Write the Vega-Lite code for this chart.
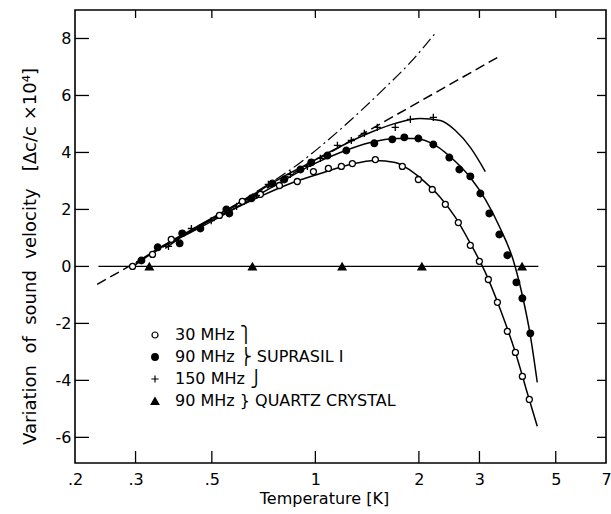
{
  "$schema": "https://vega.github.io/schema/vega-lite/v6.json",
  "width": 531,
  "height": 453,
  "autosize": {"type": "none"},
  "padding": {"left": 75, "top": 10, "right": 5, "bottom": 51},
  "background": "white",
  "config": {
    "font": "DejaVu Sans",
    "view": {"stroke": "black", "strokeWidth": 1.6},
    "axis": {
      "grid": false,
      "labelColor": "black",
      "titleColor": "black",
      "labelFontSize": 16,
      "titleFontSize": 16,
      "titleFontWeight": "normal"
    },
    "legend": {
      "labelFontSize": 16,
      "labelColor": "black",
      "labelLimit": 400,
      "rowPadding": 6,
      "labelOffset": 12
    }
  },
  "datasets": {
    "pts": [
      {"s": "s30", "T": 0.294, "v": 0.0},
      {"s": "s30", "T": 0.336, "v": 0.42},
      {"s": "s30", "T": 0.381, "v": 0.95},
      {"s": "s30", "T": 0.526, "v": 1.79},
      {"s": "s30", "T": 0.613, "v": 2.28},
      {"s": "s30", "T": 0.692, "v": 2.53},
      {"s": "s30", "T": 0.786, "v": 2.84},
      {"s": "s30", "T": 0.886, "v": 2.98},
      {"s": "s30", "T": 0.987, "v": 3.33},
      {"s": "s30", "T": 1.091, "v": 3.44},
      {"s": "s30", "T": 1.19, "v": 3.51},
      {"s": "s30", "T": 1.281, "v": 3.61},
      {"s": "s30", "T": 1.494, "v": 3.75},
      {"s": "s30", "T": 1.79, "v": 3.51},
      {"s": "s30", "T": 1.993, "v": 3.05},
      {"s": "s30", "T": 2.187, "v": 2.7},
      {"s": "s30", "T": 2.387, "v": 2.18},
      {"s": "s30", "T": 2.604, "v": 1.54},
      {"s": "s30", "T": 2.822, "v": 0.74},
      {"s": "s30", "T": 2.998, "v": 0.18},
      {"s": "s30", "T": 3.184, "v": -0.46},
      {"s": "s30", "T": 3.383, "v": -1.26},
      {"s": "s30", "T": 3.616, "v": -2.28},
      {"s": "s30", "T": 3.817, "v": -3.02},
      {"s": "s30", "T": 3.999, "v": -3.86},
      {"s": "s30", "T": 4.189, "v": -4.67},
      {"s": "s90", "T": 0.312, "v": 0.21},
      {"s": "s90", "T": 0.348, "v": 0.67},
      {"s": "s90", "T": 0.403, "v": 0.81},
      {"s": "s90", "T": 0.41, "v": 1.16},
      {"s": "s90", "T": 0.463, "v": 1.33},
      {"s": "s90", "T": 0.551, "v": 2.0},
      {"s": "s90", "T": 0.562, "v": 1.86},
      {"s": "s90", "T": 0.652, "v": 2.39},
      {"s": "s90", "T": 0.75, "v": 2.91},
      {"s": "s90", "T": 0.812, "v": 3.05},
      {"s": "s90", "T": 0.905, "v": 3.4},
      {"s": "s90", "T": 0.973, "v": 3.65},
      {"s": "s90", "T": 1.084, "v": 3.89},
      {"s": "s90", "T": 1.23, "v": 4.07},
      {"s": "s90", "T": 1.484, "v": 4.32},
      {"s": "s90", "T": 1.674, "v": 4.46},
      {"s": "s90", "T": 1.814, "v": 4.53},
      {"s": "s90", "T": 1.993, "v": 4.49},
      {"s": "s90", "T": 2.203, "v": 4.28},
      {"s": "s90", "T": 2.452, "v": 3.82},
      {"s": "s90", "T": 2.622, "v": 3.4},
      {"s": "s90", "T": 2.822, "v": 3.16},
      {"s": "s90", "T": 3.018, "v": 2.56},
      {"s": "s90", "T": 3.205, "v": 1.86},
      {"s": "s90", "T": 3.427, "v": 1.12},
      {"s": "s90", "T": 3.616, "v": 0.39},
      {"s": "s90", "T": 3.842, "v": -0.56},
      {"s": "s90", "T": 3.999, "v": -1.12},
      {"s": "s90", "T": 4.217, "v": -2.35},
      {"s": "s150", "T": 0.374, "v": 0.7},
      {"s": "s150", "T": 0.436, "v": 1.33},
      {"s": "s150", "T": 0.498, "v": 1.61},
      {"s": "s150", "T": 0.59, "v": 2.11},
      {"s": "s150", "T": 0.674, "v": 2.49},
      {"s": "s150", "T": 0.73, "v": 2.88},
      {"s": "s150", "T": 0.846, "v": 3.23},
      {"s": "s150", "T": 0.948, "v": 3.51},
      {"s": "s150", "T": 1.034, "v": 3.79},
      {"s": "s150", "T": 1.159, "v": 4.25},
      {"s": "s150", "T": 1.272, "v": 4.42},
      {"s": "s150", "T": 1.388, "v": 4.67},
      {"s": "s150", "T": 1.514, "v": 4.88},
      {"s": "s150", "T": 1.707, "v": 4.88},
      {"s": "s150", "T": 1.889, "v": 5.16},
      {"s": "s150", "T": 2.203, "v": 5.23},
      {"s": "q90", "T": 0.329, "v": 0.0},
      {"s": "q90", "T": 0.656, "v": 0.0},
      {"s": "q90", "T": 1.196, "v": 0.0},
      {"s": "q90", "T": 2.04, "v": 0.0},
      {"s": "q90", "T": 3.99, "v": 0.0}
    ],
    "lines": [
      {"c": "quartz", "T": 0.234, "v": 0.0},
      {"c": "quartz", "T": 4.45, "v": 0.0},
      {"c": "dashed", "T": 0.232, "v": -0.63},
      {"c": "dashed", "T": 3.38, "v": 7.33},
      {"c": "dashdot", "T": 0.463, "v": 1.44},
      {"c": "dashdot", "T": 0.647, "v": 2.49},
      {"c": "dashdot", "T": 0.905, "v": 3.65},
      {"c": "dashdot", "T": 1.182, "v": 4.81},
      {"c": "dashdot", "T": 1.566, "v": 6.18},
      {"c": "dashdot", "T": 1.889, "v": 7.16},
      {"c": "dashdot", "T": 2.23, "v": 8.18},
      {"c": "fit30", "T": 0.29, "v": -0.07},
      {"c": "fit30", "T": 0.331, "v": 0.42},
      {"c": "fit30", "T": 0.379, "v": 0.88},
      {"c": "fit30", "T": 0.463, "v": 1.44},
      {"c": "fit30", "T": 0.566, "v": 1.96},
      {"c": "fit30", "T": 0.692, "v": 2.46},
      {"c": "fit30", "T": 0.846, "v": 2.91},
      {"c": "fit30", "T": 1.034, "v": 3.26},
      {"c": "fit30", "T": 1.264, "v": 3.58},
      {"c": "fit30", "T": 1.494, "v": 3.72},
      {"c": "fit30", "T": 1.707, "v": 3.65},
      {"c": "fit30", "T": 1.889, "v": 3.37},
      {"c": "fit30", "T": 2.088, "v": 2.95},
      {"c": "fit30", "T": 2.309, "v": 2.42},
      {"c": "fit30", "T": 2.554, "v": 1.72},
      {"c": "fit30", "T": 2.822, "v": 0.81},
      {"c": "fit30", "T": 3.12, "v": -0.21},
      {"c": "fit30", "T": 3.45, "v": -1.51},
      {"c": "fit30", "T": 3.817, "v": -3.02},
      {"c": "fit30", "T": 4.154, "v": -4.53},
      {"c": "fit30", "T": 4.418, "v": -5.61},
      {"c": "fit90", "T": 0.3, "v": 0.11},
      {"c": "fit90", "T": 0.354, "v": 0.67},
      {"c": "fit90", "T": 0.433, "v": 1.19},
      {"c": "fit90", "T": 0.529, "v": 1.75},
      {"c": "fit90", "T": 0.647, "v": 2.35},
      {"c": "fit90", "T": 0.791, "v": 2.95},
      {"c": "fit90", "T": 0.967, "v": 3.54},
      {"c": "fit90", "T": 1.182, "v": 4.0},
      {"c": "fit90", "T": 1.445, "v": 4.35},
      {"c": "fit90", "T": 1.707, "v": 4.49},
      {"c": "fit90", "T": 1.954, "v": 4.49},
      {"c": "fit90", "T": 2.233, "v": 4.25},
      {"c": "fit90", "T": 2.554, "v": 3.68},
      {"c": "fit90", "T": 2.822, "v": 3.12},
      {"c": "fit90", "T": 3.12, "v": 2.35},
      {"c": "fit90", "T": 3.45, "v": 1.33},
      {"c": "fit90", "T": 3.764, "v": 0.21},
      {"c": "fit90", "T": 3.999, "v": -1.02},
      {"c": "fit90", "T": 4.217, "v": -2.42},
      {"c": "fit90", "T": 4.418, "v": -4.07},
      {"c": "fit150", "T": 0.366, "v": 0.63},
      {"c": "fit150", "T": 0.433, "v": 1.26},
      {"c": "fit150", "T": 0.529, "v": 1.86},
      {"c": "fit150", "T": 0.647, "v": 2.46},
      {"c": "fit150", "T": 0.791, "v": 3.09},
      {"c": "fit150", "T": 0.967, "v": 3.65},
      {"c": "fit150", "T": 1.182, "v": 4.21},
      {"c": "fit150", "T": 1.445, "v": 4.7},
      {"c": "fit150", "T": 1.707, "v": 5.02},
      {"c": "fit150", "T": 2.02, "v": 5.19},
      {"c": "fit150", "T": 2.309, "v": 5.12},
      {"c": "fit150", "T": 2.554, "v": 4.77},
      {"c": "fit150", "T": 2.822, "v": 4.18},
      {"c": "fit150", "T": 3.12, "v": 3.33}
    ]
  },
  "layer": [
    {
      "data": {"name": "lines"},
      "transform": [{"filter": "datum.c === 'quartz'"}],
      "mark": {"type": "line", "color": "black", "strokeWidth": 1.4},
      "encoding": {
        "x": {
          "field": "T", "type": "quantitative",
          "scale": {"type": "log", "domain": [0.2, 7], "nice": false},
          "axis": {
            "orient": "bottom",
            "values": [0.2, 0.3, 0.5, 1, 2, 3, 5, 7],
            "labelExpr": "datum.value < 1 ? replace(toString(datum.value), '0.', '.') : toString(datum.value)",
            "ticks": false,
            "domain": false,
            "labelPadding": 8,
            "labelOverlap": false,
            "labelFlush": false,
            "title": "Temperature [K]",
            "titleX": 249,
            "titleY": 27,
            "titleAnchor": "middle"
          }
        },
        "y": {
          "field": "v", "type": "quantitative",
          "scale": {"domain": [-6.9, 9.0], "nice": false, "zero": false},
          "axis": {
            "orient": "left",
            "values": [-6, -4, -2, 0, 2, 4, 6, 8],
            "labelExpr": "toString(datum.value)",
            "ticks": false,
            "domain": false,
            "labelPadding": 4,
            "labelOverlap": false,
            "labelFlush": false,
            "title": "Variation \u00A0of \u00A0sound \u00A0velocity \u00A0 [Δc/c ×10\u2074]",
            "titleFontSize": 18,
            "titleX": -36,
            "titleY": 246,
            "titleAnchor": "middle"
          }
        }
      }
    },
    {
      "data": {"name": "lines"},
      "transform": [{"filter": "datum.c === 'dashed'"}],
      "mark": {"type": "line", "color": "black", "strokeWidth": 1.5, "strokeDash": [10, 5]},
      "encoding": {
        "x": {"field": "T", "type": "quantitative"},
        "y": {"field": "v", "type": "quantitative"}
      }
    },
    {
      "data": {"name": "lines"},
      "transform": [{"filter": "datum.c === 'dashdot'"}],
      "mark": {"type": "line", "color": "black", "strokeWidth": 1.2, "strokeDash": [12, 4, 2, 4], "interpolate": "monotone"},
      "encoding": {
        "x": {"field": "T", "type": "quantitative"},
        "y": {"field": "v", "type": "quantitative"}
      }
    },
    {
      "data": {"values": [{"T": 0.3}, {"T": 0.5}, {"T": 1}, {"T": 2}, {"T": 3}, {"T": 5}]},
      "mark": {"type": "rule", "color": "black", "strokeWidth": 1.3},
      "encoding": {
        "x": {"field": "T", "type": "quantitative"},
        "y": {"datum": -6.9},
        "y2": {"datum": -6.48}
      }
    },
    {
      "data": {"values": [{"T": 0.3}, {"T": 0.5}, {"T": 1}, {"T": 2}, {"T": 3}, {"T": 5}]},
      "mark": {"type": "rule", "color": "black", "strokeWidth": 1.3},
      "encoding": {
        "x": {"field": "T", "type": "quantitative"},
        "y": {"datum": 9.0},
        "y2": {"datum": 8.72}
      }
    },
    {
      "data": {"values": [{"v": -6}, {"v": -4}, {"v": -2}, {"v": 0}, {"v": 2}, {"v": 4}, {"v": 6}, {"v": 8}]},
      "mark": {"type": "rule", "color": "black", "strokeWidth": 1.3},
      "encoding": {
        "y": {"field": "v", "type": "quantitative"},
        "x": {"datum": 0.2},
        "x2": {"datum": 0.2196}
      }
    },
    {
      "data": {"values": [{"v": -6}, {"v": -4}, {"v": -2}, {"v": 0}, {"v": 2}, {"v": 4}, {"v": 6}, {"v": 8}]},
      "mark": {"type": "rule", "color": "black", "strokeWidth": 1.3},
      "encoding": {
        "y": {"field": "v", "type": "quantitative"},
        "x": {"datum": 7},
        "x2": {"datum": 6.59}
      }
    },
    {
      "data": {"name": "lines"},
      "transform": [{"filter": "indexof(['fit30','fit90','fit150'], datum.c) >= 0"}],
      "mark": {"type": "line", "color": "black", "strokeWidth": 1.5, "interpolate": "monotone"},
      "encoding": {
        "x": {"field": "T", "type": "quantitative"},
        "y": {"field": "v", "type": "quantitative"},
        "detail": {"field": "c", "type": "nominal"}
      }
    },
    {
      "data": {"name": "pts"},
      "mark": {"type": "point", "stroke": "black", "strokeWidth": 1.3, "opacity": 1, "fillOpacity": 1, "strokeOpacity": 1},
      "encoding": {
        "x": {"field": "T", "type": "quantitative"},
        "y": {"field": "v", "type": "quantitative"},
        "shape": {
          "field": "s", "type": "nominal",
          "scale": {"domain": ["s30", "s90", "s150", "q90"], "range": ["circle", "circle", "M-1,0L1,0M0,-1L0,1", "triangle-up"]},
          "legend": {
            "title": null,
            "orient": "none",
            "legendX": 72,
            "legendY": 317,
            "symbolStrokeColor": "black",
            "symbolStrokeWidth": 1.2,
            "labelExpr": "datum.value === 's30' ? '\u200730  MHz  \u23AB' : datum.value === 's90' ? '\u200790  MHz  \u23AC SUPRASIL I' : datum.value === 's150' ? '150  MHz  \u23AD' : '\u200790  MHz  } QUARTZ CRYSTAL'",
            "encode": {"symbols": {"update": {"stroke": {"value": "black"}, "strokeWidth": {"value": 1.2}}}}
          }
        },
        "fill": {
          "field": "s", "type": "nominal",
          "scale": {"domain": ["s30", "s90", "s150", "q90"], "range": ["white", "black", "transparent", "black"]}
        },
        "size": {
          "field": "s", "type": "nominal",
          "scale": {"domain": ["s30", "s90", "s150", "q90"], "range": [36, 60, 80, 70]}
        }
      }
    }
  ]
}
